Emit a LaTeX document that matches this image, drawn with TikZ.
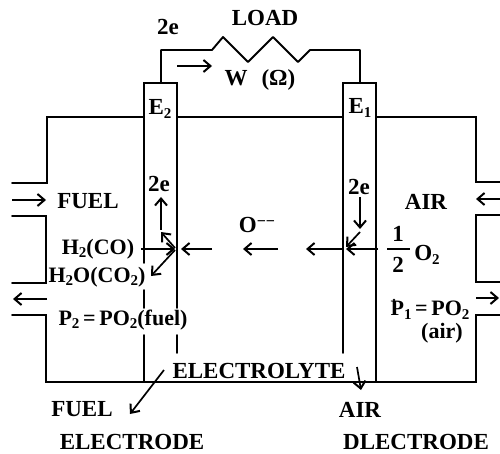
\documentclass[tikz,border=0pt]{standalone}
\usepackage{fontspec}
\setmainfont{Liberation Serif}
\usetikzlibrary{arrows.meta}
\newcommand\sbs[1]{\raisebox{-.35ex}{\fontsize{15}{15}\selectfont #1}}
\tikzset{
  wall/.style={line width=1.9pt,line cap=round,line join=miter},
  flow/.style={line width=1.7pt,-{Straight Barb[length=7pt,width=12pt,line width=2pt]}},
  lbl/.style={inner sep=0pt,font=\bfseries\fontsize{23}{24}\selectfont},
  small/.style={inner sep=0pt,font=\bfseries\fontsize{22}{24}\selectfont}
}
\begin{document}
\begin{tikzpicture}[x=1pt,y=-1pt]
\useasboundingbox (0,0) rectangle (500,454);
\fill[white] (0,0) rectangle (500,454);
% chamber walls
\draw[wall] (144,117) -- (47,117) -- (47,183) -- (12,183);
\draw[wall] (12,216) -- (46,216) -- (46,283) -- (12,283);
\draw[wall] (12,315) -- (46,315) -- (46,382) -- (476,382) -- (476,315) -- (500,315);
\draw[wall] (500,282) -- (476,282) -- (476,215) -- (500,215);
\draw[wall] (500,182) -- (476,182) -- (476,117) -- (376,117);
\draw[wall] (177,117) -- (343,117);
% electrodes
\draw[wall] (144,263) -- (144,83) -- (177,83) -- (177,308);
\draw[wall] (144,290) -- (144,308);
\draw[wall] (144,335) -- (144,382);
\draw[wall] (177,335) -- (177,353);
\draw[wall] (343,353) -- (343,83) -- (376,83) -- (376,382);
% external circuit
\draw[wall,line join=round] (161,83) -- (161,50) -- (212,50) -- (223,37) -- (248,62) -- (273,37) -- (298,62) -- (310,50) -- (360,50) -- (360,83);
% arrows
\draw[flow] (177,66) -- (212,66);
\draw[flow] (12,200) -- (46,200);
\draw[flow] (47,299) -- (13,299);
\draw[flow] (500,199) -- (476,199);
\draw[flow] (476,298) -- (499,298);
\draw[flow] (161,230) -- (161,197);
\draw[flow] (175,248) -- (161,232);
\draw[flow] (141,249) -- (175,249);
\draw[flow] (175,250) -- (151,276);
\draw[flow] (212,249) -- (181,249);
\draw[flow] (278,249) -- (243,249);
\draw[flow] (342,249) -- (306,249);
\draw[flow] (378,249) -- (346,249);
\draw[flow] (360,197) -- (360,229);
\draw[flow] (360,232) -- (346,247);
\draw[flow] (164,370) -- (130,414);
\draw[flow] (357,367) -- (361,390);
\draw[line width=1.7pt] (387,249) -- (410,249);
% labels
\node[lbl] (load) at (265,18) {LOAD};
\node[lbl] (topE) at (168,27) {2e};
\node[lbl] (ohm) at (260,80) {W\hspace{.6em}(Ω)};
\node[lbl] (e2) at (160,109) {E\sbs{2}};
\node[lbl] (e1) at (360,108) {E\sbs{1}};
\node[lbl] (fuel) at (88,201) {FUEL};
\node[lbl] (air) at (426,202) {AIR};
\node[lbl] (leftE) at (159,184) {2e};
\node[lbl] (rightE) at (359,187) {2e};
\node[lbl] (ion) at (257,225) {O\raisebox{.6ex}{\fontsize{16}{16}\selectfont −−}};
\node[small] (hco) at (98,249) {H\sbs{2}(CO)};
\node[small] (hoco) at (97,277) {H\sbs{2}O(CO\sbs{2})};
\node[lbl] (one) at (398,234) {1};
\node[lbl] (two) at (398,265) {2};
\node[lbl] (oxy) at (427,255) {O\sbs{2}};
\node[small] (ptwo) at (123,320) {P\sbs{2}\,=\,PO\sbs{2}(fuel)};
\node[small] (pone) at (430,310) {P\sbs{1}\,=\,PO\sbs{2}};
\fill (394,300) circle (1.3pt);
\node[small] (airp) at (442,333) {(air)};
\node[lbl] (elyte) at (259,371) {ELECTROLYTE};
\node[lbl] (fuela) at (82,409) {FUEL};
\node[lbl] (fuelb) at (132,442) {ELECTRODE};
\node[lbl] (aira) at (360,410) {AIR};
\node[lbl] (airb) at (416,442) {DLECTRODE};
\end{tikzpicture}
\end{document}
